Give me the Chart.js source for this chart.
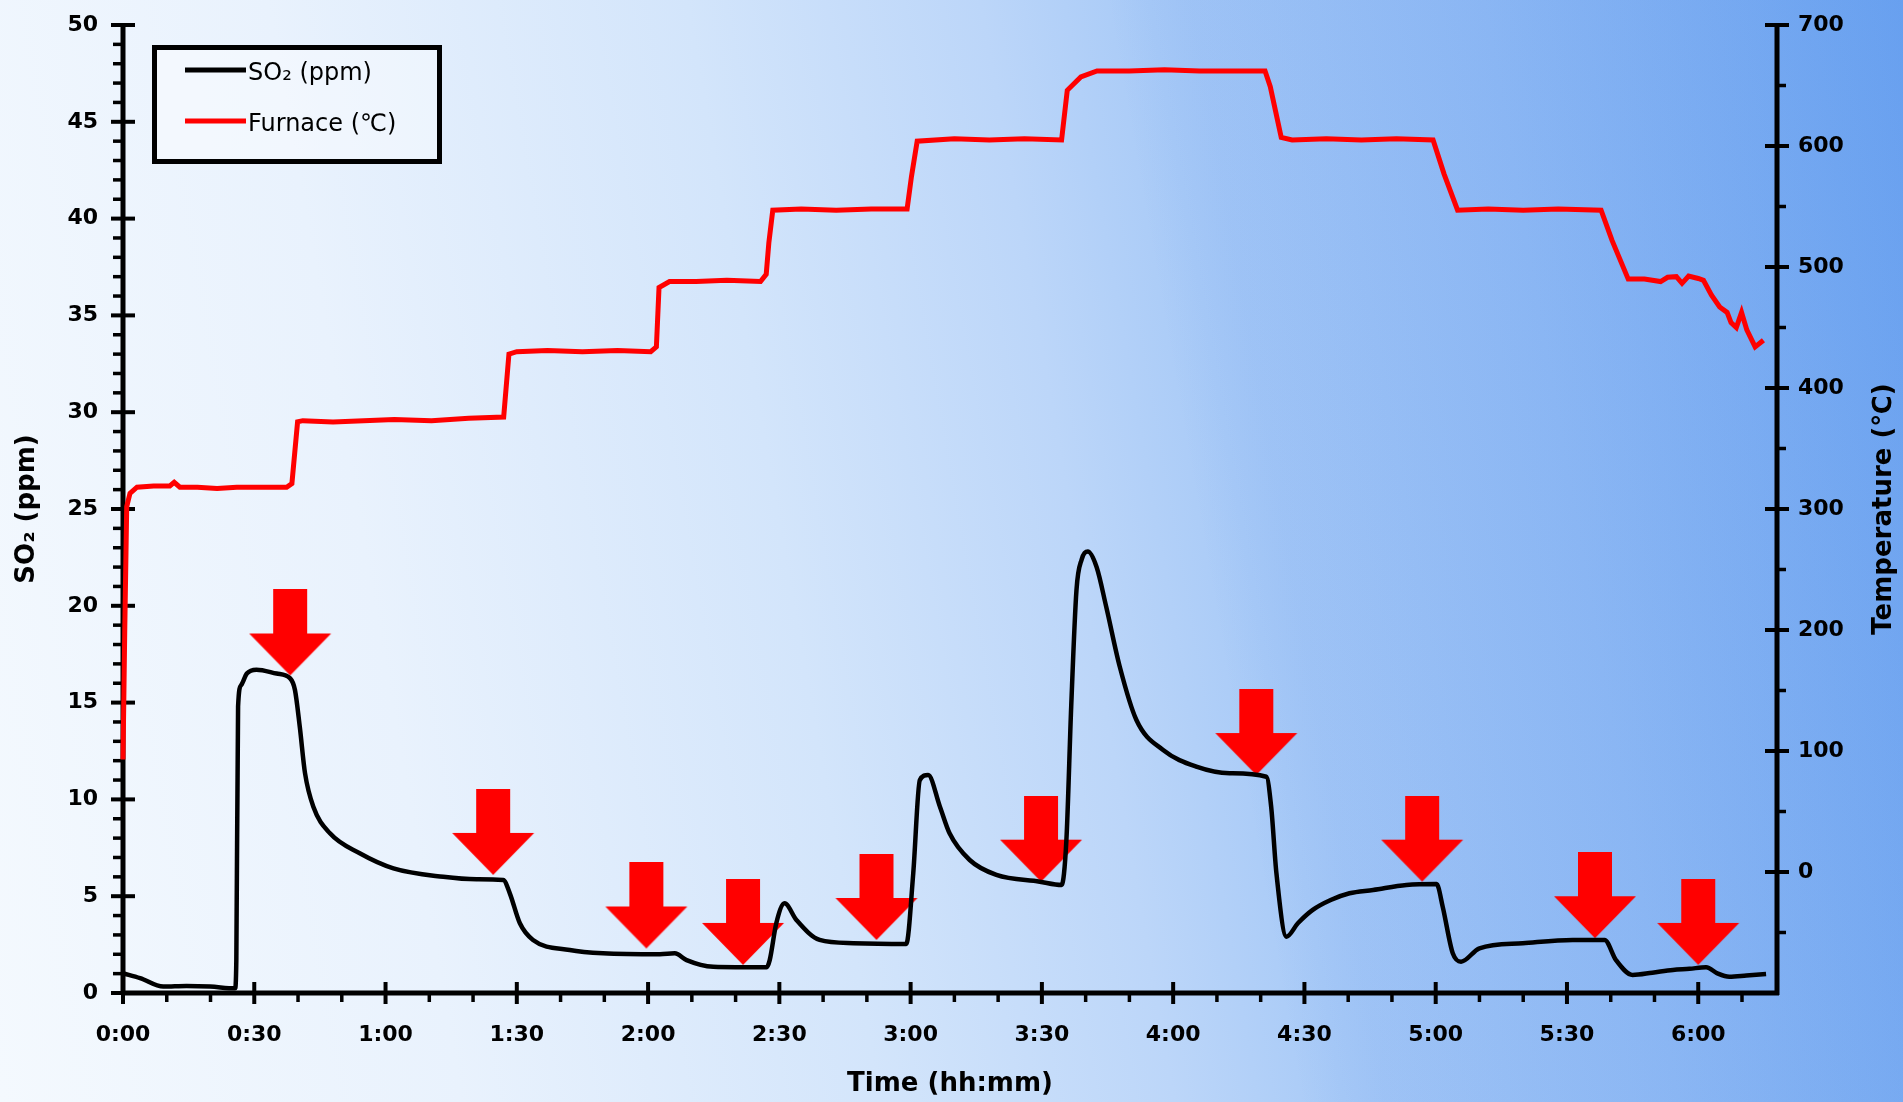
<!DOCTYPE html>
<html>
<head>
<meta charset="utf-8">
<title>SO2 release vs furnace temperature</title>
<script src="https://cdn.jsdelivr.net/npm/chart.js@4.4.1/dist/chart.umd.min.js"></script>
<style>
html,body{margin:0;padding:0;width:1903px;height:1102px;overflow:hidden}
body{background:
  linear-gradient(80deg,rgba(20,90,220,0) 0%,rgba(20,90,220,0) 62%,rgba(20,90,220,0.05) 66%,rgba(20,90,220,0.08) 100%),
  linear-gradient(80deg,#f4f9fe 0%,#e9f2fd 22%,#d3e5fb 42%,#bcd6f9 56%,#a8caf7 64%,#92bcf5 80%,#6fa6f1 100%)}
#wrap{position:absolute;left:0;top:0;width:1903px;height:1102px}
</style>
</head>
<body>
<div id="wrap"><canvas id="so2Chart"></canvas></div>
<script>
// axis ticks
const timeTicks = [0,30,60,90,120,150,180,210,240,270,300,330,360];
const timeLabels = ["0:00","0:30","1:00","1:30","2:00","2:30","3:00","3:30","4:00","4:30","5:00","5:30","6:00"];
const so2Ticks = [0,5,10,15,20,25,30,35,40,45,50];
const tempTicks = [0,100,200,300,400,500,600,700];

// SO2 trace (minutes, ppm)
const so2Time = [0,3.9,9.2,14.5,19.9,25.6,25.9,26.3,27.0,28.3,30.5,35.1,38.2,39.3,40.4,41.6,43.5,47.3,54.1,61.8,
  73.2,80.8,86.9,88.4,90.7,93.7,102.1,109.7,122.7,126.1,128.8,134.9,147.1,147.8,149.3,151.2,153.9,159.2,166.9,179.0,
  180.6,182.1,184.0,186.7,188.9,193.5,199.6,209.5,214.5,215.6,216.7,217.9,219.1,220.5,222.5,224.7,227.8,231.6,237.7,245.3,
  252.9,261.3,262.4,263.6,265.9,268.5,271.9,276,280.3,285.7,293.3,300.2,301.6,303.9,305.8,310.0,319.9,331.3,338.6,341.2,
  345.0,349.5,354.2,358,361.8,364.5,367.1,371,375.5];
const so2Ppm = [1.02,0.77,0.33,0.36,0.33,0.24,1.7,14.8,15.9,16.5,16.7,16.5,16.25,15.65,13.75,11.35,9.62,8.25,7.22,6.44,
  6.0,5.87,5.84,5.15,3.6,2.74,2.22,2.05,2.0,2.05,1.7,1.36,1.33,1.7,3.6,4.63,3.77,2.74,2.57,2.53,
  6.18,11.0,11.26,9.62,8.25,6.87,6.1,5.75,5.58,7.9,14.8,20.8,22.4,22.8,22.0,19.95,16.85,14.1,12.55,11.69,
  11.35,11.17,9.62,6.18,2.91,3.6,4.29,4.8,5.15,5.32,5.58,5.63,4.46,2.05,1.62,2.31,2.57,2.74,2.74,1.7,
  0.93,1.05,1.19,1.25,1.33,1.0,0.84,0.9,0.98];

// furnace thermocouple (minutes, deg C)
const furnaceTime = [0,0.4,0.85,1.6,3.2,7,10.7,11.7,13,17,21.5,26,31,37.4,38.6,39.9,41.1,48,55,62,
  70.5,79,87.0,88.2,90.0,97,105,113,120.6,121.9,122.5,124.9,131,138,145.7,147.0,147.6,148.5,155,163,
  171,179.2,180.2,181.5,190,198,206,214.5,215.8,218.9,222.6,230,238,246,254,261.0,262.2,264.7,267.2,275,
  283,291,299.4,301.9,305.0,312,320,328,337.8,340.3,344.0,347.7,351.4,353.0,355.0,356.3,357.8,360.0,361.2,363.0,
  364.9,366.6,367.5,368.7,369.9,371.1,373,374.9];
const furnaceTemp = [93,200,302,313,318,319,319,322,318,318,317,318,318,318,321,372,373,372,373,374,
  373,375,376,428,430,431,430,431,430,434,483,488,488,489,488,494,520,547,548,547,
  548,548,575,604,606,605,606,605,646,657,662,662,663,662,662,662,649,607,605,606,
  605,606,605,577,547,548,547,548,547,522,490,490,488,491.5,492,486.5,492.5,490.5,489,477,
  467,462.5,454,450,462.5,448,434,439.5];

// sample-change markers (arrow tip position)
const arrowTime = [38.2,84.6,119.6,141.7,172.2,209.8,259.0,296.9,336.4,360.0];
const arrowPpm = [16.4,6.1,2.3,1.45,2.74,5.75,11.26,5.75,2.83,1.45];

const FONT = '"DejaVu Sans", "Liberation Sans", Arial, sans-serif';

// red down arrow; tip sits at the canvas centre so the point value is the tip
const arrowImg = (() => {
  const c = document.createElement('canvas');
  c.width = 84; c.height = 172;
  const g = c.getContext('2d');
  g.fillStyle = '#ff0000';
  g.beginPath();
  g.moveTo(25, 0); g.lineTo(59, 0); g.lineTo(59, 44); g.lineTo(83, 44);
  g.lineTo(42, 86); g.lineTo(1, 44); g.lineTo(25, 44);
  g.closePath(); g.fill();
  return c;
})();

const xy = (xs, ys) => xs.map((x, i) => ({x: x, y: ys[i]}));

// fixed axis box; drop the label overhang so the plot reaches the layout padding
const fixWidth = w => s => { s.width = w; s.paddingTop = 0; s.paddingBottom = 0; };

// axis lines, major/minor tick marks, right title, boxed legend
const frame = {
  id: 'frame',
  beforeDatasetsDraw(chart) {
    const {ctx, chartArea: a, scales} = chart;
    const sx = scales.x, yl = scales.ySO2, yr = scales.yTemp;
    ctx.save();
    ctx.strokeStyle = '#000';
    const seg = (x1, y1, x2, y2) => { ctx.beginPath(); ctx.moveTo(x1, y1); ctx.lineTo(x2, y2); ctx.stroke(); };

    ctx.lineWidth = 3.5;
    for (let m = 10; m <= 370; m += 10) {
      if (m % 30) { const px = sx.getPixelForValue(m); seg(px, a.bottom, px, a.bottom + 9); }
    }
    for (let v = 1; v < 50; v++) {
      if (v % 5) { const py = yl.getPixelForValue(v); seg(a.left - 10, py, a.left, py); }
    }
    for (let v = -50; v < 700; v += 100) {
      const py = yr.getPixelForValue(v); seg(a.right, py, a.right + 9, py);
    }

    ctx.lineWidth = 4;
    timeTicks.forEach(m => { const px = sx.getPixelForValue(m); seg(px, a.bottom - 11, px, a.bottom + 11); });
    so2Ticks.forEach(v => { const py = yl.getPixelForValue(v); seg(a.left - 12, py, a.left + 12, py); });
    tempTicks.forEach(v => { const py = yr.getPixelForValue(v); seg(a.right - 12, py, a.right + 12, py); });

    ctx.lineWidth = 5;
    seg(a.left, a.top - 2, a.left, a.bottom + 2);
    seg(a.right, a.top - 2, a.right, a.bottom + 2);
    seg(a.left - 2, a.bottom, a.right + 2, a.bottom);
    ctx.restore();
  },
  afterDraw(chart) {
    const {ctx, chartArea: a} = chart;
    ctx.save();
    // right-hand axis title, reading bottom to top
    ctx.translate(1884, (a.top + a.bottom) / 2);
    ctx.rotate(-Math.PI / 2);
    ctx.font = 'bold 26px ' + FONT;
    ctx.fillStyle = '#000';
    ctx.textAlign = 'center';
    ctx.textBaseline = 'middle';
    ctx.fillText('Temperature (℃)', 0, 0);
    ctx.restore();

    // legend box
    ctx.save();
    ctx.fillStyle = 'rgba(255,255,255,0.4)';
    ctx.fillRect(154.5, 47.5, 285, 114);
    ctx.lineWidth = 5;
    ctx.strokeStyle = '#000';
    ctx.strokeRect(154.5, 47.5, 285, 114);
    ctx.font = '24px ' + FONT;
    ctx.textBaseline = 'middle';
    ctx.textAlign = 'left';
    [0, 1].forEach((di, k) => {
      const ds = chart.data.datasets[di];
      const y = 70 + k * 51;
      ctx.strokeStyle = ds.borderColor;
      ctx.lineWidth = 5;
      ctx.beginPath(); ctx.moveTo(185, y); ctx.lineTo(246, y); ctx.stroke();
      ctx.fillStyle = '#000';
      ctx.fillText(ds.label, 248, y + 4);
    });
    ctx.restore();
  }
};

const tickFont = {family: FONT, size: 22, weight: 'bold'};
const titleFont = {family: FONT, size: 26, weight: 'bold'};

new Chart(document.getElementById('so2Chart'), {
  type: 'line',
  data: {
    datasets: [
      {label: 'SO₂ (ppm)', data: xy(so2Time, so2Ppm), yAxisID: 'ySO2', borderColor: '#000000',
       borderWidth: 4.5, pointRadius: 0, cubicInterpolationMode: 'monotone', order: 1, clip: false},
      {label: 'Furnace (℃)', data: xy(furnaceTime, furnaceTemp), yAxisID: 'yTemp', borderColor: '#ff0000',
       borderWidth: 5, pointRadius: 0, tension: 0, order: 2, clip: false},
      {label: 'sample change', type: 'scatter', data: xy(arrowTime, arrowPpm), yAxisID: 'ySO2',
       pointStyle: arrowImg, pointRadius: 40, order: 3, clip: false}
    ]
  },
  options: {
    responsive: true,
    maintainAspectRatio: false,
    devicePixelRatio: 1,
    animation: false,
    layout: {autoPadding: false, padding: {top: 25, left: 0, right: 0, bottom: 0}},
    plugins: {legend: {display: false}, tooltip: {enabled: false}},
    scales: {
      x: {
        type: 'linear', position: 'bottom', min: 0, max: 378,
        grid: {display: false, drawTicks: false}, border: {display: false},
        afterBuildTicks: s => { s.ticks = timeTicks.map(v => ({value: v})); },
        ticks: {callback: (v, i) => timeLabels[i], font: tickFont, color: '#000', padding: 29,
                maxRotation: 0, autoSkip: false},
        title: {display: true, text: 'Time (hh:mm)', font: titleFont, color: '#000', padding: {top: 0, bottom: 2}},
        afterFit: s => { s.height = 109; }
      },
      ySO2: {
        type: 'linear', position: 'left', min: 0, max: 50,
        grid: {display: false, drawTicks: false}, border: {display: false},
        afterBuildTicks: s => { s.ticks = so2Ticks.map(v => ({value: v})); },
        ticks: {font: tickFont, color: '#000', padding: 25},
        title: {display: true, text: 'SO₂ (ppm)', font: titleFont, color: '#000', padding: {top: 12, bottom: 0}},
        afterFit: fixWidth(123)
      },
      yTemp: {
        type: 'linear', position: 'right', min: -100, max: 700,
        grid: {display: false, drawTicks: false}, border: {display: false},
        afterBuildTicks: s => { s.ticks = tempTicks.map(v => ({value: v})); },
        ticks: {font: tickFont, color: '#000', padding: 21},
        afterFit: fixWidth(126)
      }
    }
  },
  plugins: [frame]
});
</script>
</body>
</html>
